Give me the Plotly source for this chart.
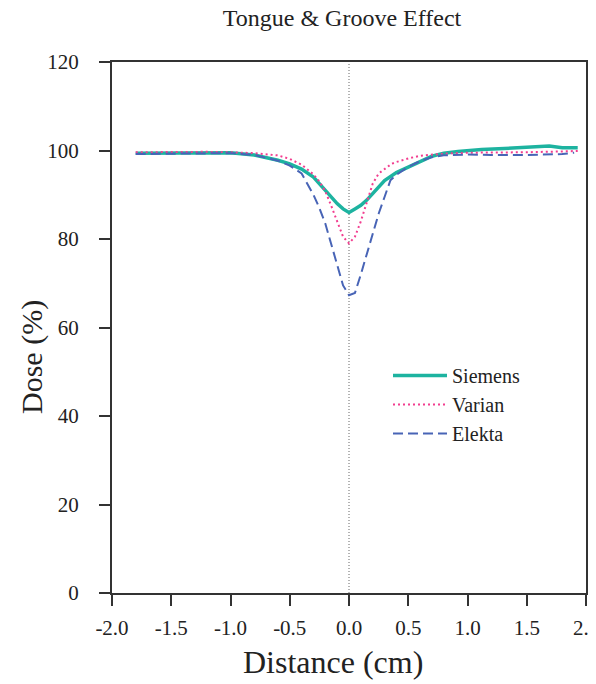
import plotly.graph_objects as go

# Tongue & groove dose profiles
siemens_x = [-1.8, -1.5, -1.2, -1.0, -0.8, -0.7, -0.6, -0.5, -0.4, -0.3, -0.2, -0.15, -0.1, -0.05,
             0.0, 0.05, 0.1, 0.15, 0.2, 0.3, 0.4, 0.5, 0.6, 0.7, 0.8, 0.92, 1.12, 1.3, 1.52, 1.69, 1.8, 1.93]
siemens_y = [99.4, 99.5, 99.5, 99.5, 99.0, 98.4, 97.8, 97.0, 95.8, 94.0, 91.0, 89.5, 88.0, 86.8,
             86.0, 86.8, 87.6, 88.8, 90.2, 93.2, 95.0, 96.3, 97.6, 98.7, 99.4, 99.8, 100.2, 100.5, 100.8, 101.0, 100.6, 100.6]

varian_x = [-1.8, -1.5, -1.2, -1.0, -0.8, -0.6, -0.5, -0.4, -0.3, -0.25, -0.2, -0.15, -0.1, -0.05,
            0.0, 0.05, 0.1, 0.15, 0.2, 0.25, 0.3, 0.36, 0.4, 0.5, 0.6, 0.8, 1.0, 1.2, 1.5, 1.8, 1.93]
varian_y = [99.6, 99.7, 99.7, 99.6, 99.4, 98.9, 98.1, 96.8, 94.6, 93.0, 90.8, 87.5, 83.8, 80.5,
            79.0, 80.5, 84.0, 88.5, 92.5, 94.8, 95.8, 97.0, 97.4, 98.2, 98.8, 99.3, 99.5, 99.5, 99.6, 99.8, 99.9]

elekta_x = [-1.8, -1.5, -1.2, -1.0, -0.8, -0.6, -0.5, -0.4, -0.3, -0.25, -0.2, -0.15, -0.1, -0.05,
            0.0, 0.05, 0.1, 0.15, 0.2, 0.25, 0.3, 0.35, 0.4, 0.5, 0.6, 0.7, 0.8, 1.0, 1.2, 1.5, 1.8, 1.9]
elekta_y = [99.2, 99.3, 99.4, 99.4, 99.0, 97.7, 96.6, 94.8, 90.0, 87.0, 83.5, 79.0, 74.0, 69.5,
            67.3, 67.8, 72.0, 76.5, 81.5, 85.7, 89.5, 93.3, 94.5, 96.3, 97.6, 98.5, 98.9, 99.1, 99.0, 99.0, 99.2, 99.5]

x_ticks = [-2.0, -1.5, -1.0, -0.5, 0.0, 0.5, 1.0, 1.5, 2.0]
x_labels = ["-2.0", "-1.5", "-1.0", "-0.5", "0.0", "0.5", "1.0", "1.5", "2.0"]
y_ticks = [0, 20, 40, 60, 80, 100, 120]

serif = "Liberation Serif"
ink = "#222222"

# page body has an 8px margin, so the figure is drawn 8px smaller
W, H = 588, 676
L, T, R, B = 104, 54, 10, 91
pw, ph = W - L - R, H - T - B

fig = go.Figure()
fig.add_trace(go.Scatter(x=siemens_x, y=siemens_y, mode="lines", name="Siemens",
                         line=dict(color="#1db3a0", width=3.5)))
fig.add_trace(go.Scatter(x=varian_x, y=varian_y, mode="lines", name="Varian",
                         line=dict(color="#f23d8f", width=2, dash="2px,3px")))
fig.add_trace(go.Scatter(x=elekta_x, y=elekta_y, mode="lines", name="Elekta",
                         line=dict(color="#4864b6", width=2, dash="10px,5px")))

# dotted line at x = 0
fig.add_shape(type="line", x0=0, x1=0, y0=0, y1=1, xref="x", yref="paper",
              line=dict(color="#666666", width=1, dash="1px,2px"), layer="below")

axis_style = dict(showline=True, linecolor="#333333", linewidth=2, mirror=True,
                  ticks="outside", ticklen=11, tickwidth=2, tickcolor="#333333",
                  showgrid=False, zeroline=False, automargin=False,
                  tickfont=dict(family=serif, size=21, color=ink))

fig.update_xaxes(range=[-2, 2], tickvals=x_ticks, ticktext=x_labels,
                 ticklabeloverflow="allow", ticklabelstandoff=4, **axis_style)
fig.update_yaxes(range=[0, 120], tickvals=y_ticks, ticklabelstandoff=16, **axis_style)

fig.update_layout(
    width=W, height=H,
    margin=dict(l=L, r=R, t=T, b=B, autoexpand=False),
    plot_bgcolor="white", paper_bgcolor="white",
    font=dict(family=serif, color=ink),
    title=dict(text="Tongue & Groove Effect", font=dict(size=24, family=serif, color=ink),
               x=(342 - 8) / W, xref="container", xanchor="center",
               y=1, yref="container", yanchor="top", pad=dict(t=1)),
    legend=dict(x=(388 - 112) / pw, y=(593 - 356) / ph, xanchor="left", yanchor="top",
                itemwidth=54, bgcolor="rgba(0,0,0,0)",
                font=dict(size=20, family=serif, color=ink)),
    annotations=[
        dict(text="Distance (cm)", xref="paper", yref="paper",
             x=(333 - 112) / pw, y=(593 - 662) / ph, showarrow=False,
             font=dict(size=32, family=serif, color=ink),
             xanchor="center", yanchor="middle"),
        dict(text="Dose (%)", xref="paper", yref="paper",
             x=(32 - 112) / pw, y=(593 - 357) / ph, showarrow=False, textangle=-90,
             font=dict(size=30, family=serif, color=ink),
             xanchor="center", yanchor="middle"),
    ],
)

fig.write_html("out.html")
